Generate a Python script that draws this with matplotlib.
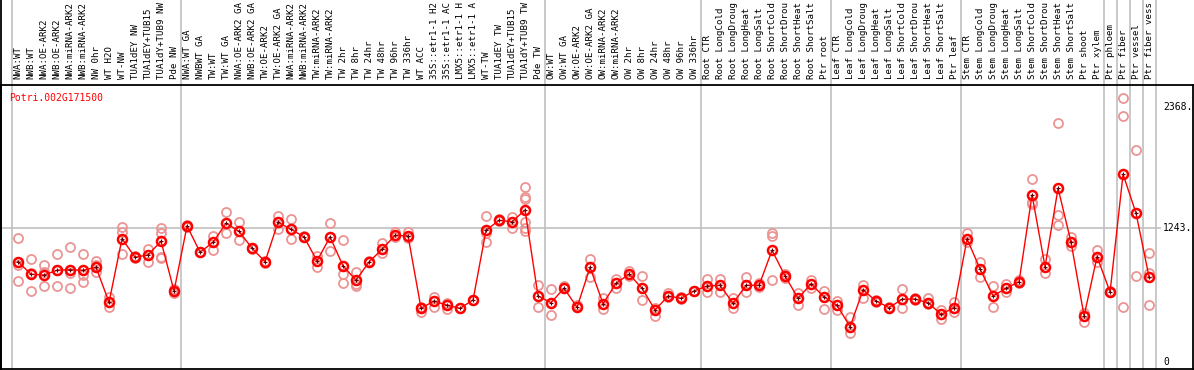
import matplotlib.pyplot as plt

# sample names as shown in the chart (cut to 14 characters)
samples = ["NWA:WT", "NWB:WT", "NWA:OE-ARK2", "NWB:OE-ARK2", "NWA:miRNA-ARK2", "NWB:miRNA-ARK2",
           "NW 0hr", "WT H2O", "WT-NW", "TUA1dEY NW", "TUA1dEY+TUB15", "TUA1dY+TUB9 NW", "Pde NW",
           "NWA:WT GA", "NWBWT GA", "TW:WT", "TW:WT GA", "NWA:OE-ARK2 GA", "NWB:OE-ARK2 GA",
           "TW:OE-ARK2", "TW:OE-ARK2 GA", "NWA:miRNA-ARK2", "NWB:miRNA-ARK2", "TW:miRNA-ARK2",
           "TW:miRNA-ARK2", "TW 2hr", "TW 8hr", "TW 24hr", "TW 48hr", "TW 96hr", "TW 336hr",
           "WT ACC", "35S::etr1-1 H2", "35S::etr1-1 AC", "LMX5::etr1-1 H", "LMX5::etr1-1 A",
           "WT-TW", "TUA1dEY TW", "TUA1dEY+TUB15", "TUA1dY+TUB9 TW", "Pde TW",
           "OW:WT", "OW:WT GA", "OW:OE-ARK2", "OW:OE-ARK2 GA", "OW:miRNA-ARK2", "OW:miRNA-ARK2",
           "OW 2hr", "OW 8hr", "OW 24hr", "OW 48hr", "OW 96hr", "OW 336hr",
           "Root CTR", "Root LongCold", "Root LongDroug", "Root LongHeat", "Root LongSalt",
           "Root ShortCold", "Root ShortDrou", "Root ShortHeat", "Root ShortSalt", "Ptr root",
           "Leaf CTR", "Leaf LongCold", "Leaf LongDroug", "Leaf LongHeat", "Leaf LongSalt",
           "Leaf ShortCold", "Leaf ShortDrou", "Leaf ShortHeat", "Leaf ShortSalt", "Ptr leaf",
           "Stem CTR", "Stem LongCold", "Stem LongDroug", "Stem LongHeat", "Stem LongSalt",
           "Stem ShortCold", "Stem ShortDrou", "Stem ShortHeat", "Stem ShortSalt", "Ptr shoot",
           "Ptr xylem", "Ptr phloem", "Ptr fiber", "Ptr vessel", "Ptr fiber vess"]

# mean expression per sample
means = [930, 814, 807, 851, 856, 851, 878, 554, 1144, 971, 993, 1120, 659,
         1262, 1018, 1110, 1287, 1212, 1055, 930, 1296, 1231, 1160, 937, 1160, 891, 758,
         928, 1045, 1175, 1169, 498, 566, 526, 498, 575, 1222, 1314, 1301, 1410, 612,
         550, 684, 507, 878, 541, 730, 814, 684, 482, 612, 591, 659,
         705, 711, 545, 711, 711, 1036, 798, 591, 724, 603,
         526, 327, 668, 566, 504, 582, 584, 550, 442, 504,
         1141, 863, 612, 684, 745, 1549, 884, 1611, 1110, 427, 977,
         649, 1741, 1379, 788]

# individual replicates
reps = [[1147, 900, 751], [953, 828, 659], [900, 838, 705], [1002, 851, 705],
        [1070, 823, 684], [1002, 807, 739], [937, 838, 900], [606, 513],
        [1252, 1209, 1002], [980, 965], [1048, 930], [1246, 1194, 977, 962], [637, 680],
        [1270, 1255], [1018, 1020], [1172, 1036], [1389, 1194], [1296, 1129], [1055, 1050],
        [916, 940], [1354, 1231], [1324, 1138], [1160, 1165], [986, 878], [1287, 1027],
        [1129, 816, 730], [832, 724, 708], [928, 935], [1104, 1008], [1203, 1160],
        [1209, 1147], [467, 510], [606, 513], [550, 489], [498, 500], [575, 578],
        [1354, 1194, 1116], [1324, 1305], [1348, 1240],
        [1623, 1528, 1512, 1301, 1240, 1218], [714, 507],
        [674, 436], [704, 690], [526, 515], [955, 791], [591, 489], [770, 686],
        [847, 800], [798, 575], [504, 429], [637, 600], [606, 580], [659, 662],
        [767, 647], [767, 652], [591, 498], [791, 647], [730, 700], [1194, 1169, 761],
        [817, 779], [643, 526], [761, 684], [659, 489],
        [569, 482], [415, 266], [714, 591], [560, 575], [498, 510], [674, 498],
        [592, 575], [591, 538], [482, 399], [559, 467],
        [1194, 1116], [925, 786], [705, 507], [724, 650], [761, 735],
        [1695, 1487, 1466], [955, 828], [2214, 1364, 1268], [1162, 1079], [452, 374],
        [1039, 925], [649, 655], [2446, 2279, 507], [1967, 798], [1008, 823, 526]]

# group boundaries (between sample indices)
separators = [-0.5, 12.5, 40.5, 52.5, 62.5, 72.5, 83.5, 84.5, 85.5, 86.5, 87.5]
scale_marks = [2368, 1243, 0]
gene = "Potri.002G171500"

mono = "DejaVu Sans Mono"
fs = 7.0
fs_lab = 6.6

fig = plt.figure(figsize=(11.94, 3.70), dpi=100)
ax = fig.add_axes([1 / 1194, 1 - 369 / 370, 1192 / 1194, 284 / 370])

x = list(range(len(samples)))

for i, r in enumerate(reps):
    ax.plot([i] * len(r), r, 'o', ms=6.5, mfc='none', mec='#eb9494', mew=1.3, zorder=2)

ax.plot(x, means, '-', color='red', lw=1.0, zorder=3)
ax.plot(x, means, 'o', ms=6.5, mfc='none', mec='red', mew=1.8, zorder=4)
ax.plot(x, means, '+', ms=3, color='#600000', mew=0.8, zorder=5)

ax.set_xlim(-1.31, 90.38)
ax.set_ylim(-65, 2569)

# gray group separators run up through the label area
for s in separators:
    ax.axvline(s, ymin=0, ymax=1.3, color='#c0c0c0', lw=1.2, clip_on=False, zorder=1)
ax.axhline(scale_marks[1], xmin=0, xmax=1159 / 1192, color='#c0c0c0', lw=1.2, zorder=1)

for v in scale_marks:
    ax.text(88.1, v, str(v) + ('.' if v else ''), fontsize=fs, family=mono, va='center', ha='left')

ax.text(0.007, 0.955, gene, transform=ax.transAxes, color='red', fontsize=fs, family=mono,
        va='center', ha='left')

ax.set_xticks(x)
ax.set_xticklabels(samples, rotation=90, fontsize=fs_lab, family=mono)
ax.tick_params(axis='x', top=False, bottom=False, labeltop=True, labelbottom=False, pad=0.5)
ax.set_yticks([])
for sp in ax.spines.values():
    sp.set_linewidth(1.3)
    sp.set_color('black')

# left border continues through the label area
fig.add_artist(plt.Line2D([1 / 1194, 1 / 1194], [0, 1], color='black', lw=1.3,
                          transform=fig.transFigure))

fig.savefig("out.png", dpi=100)
